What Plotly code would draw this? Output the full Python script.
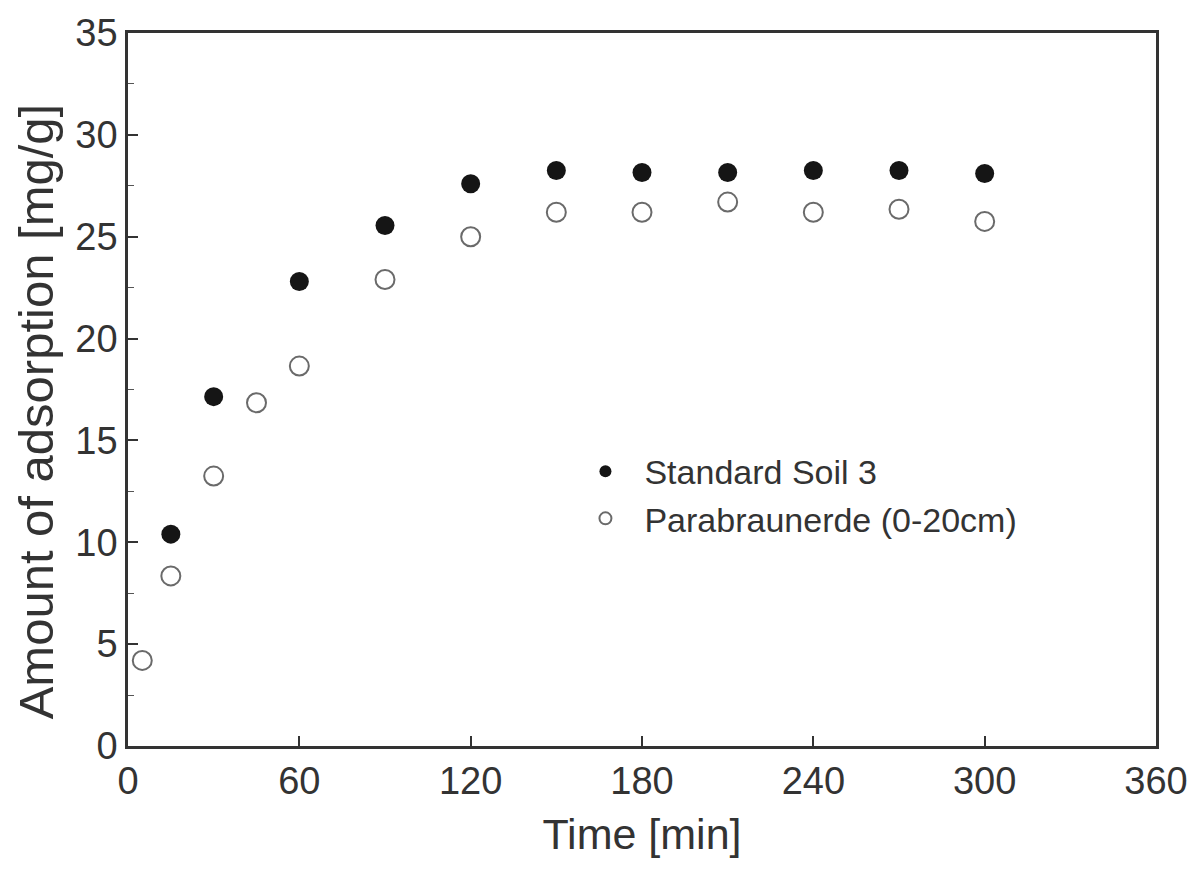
import plotly.graph_objects as go

# Adsorption kinetics: time [min] vs. amount adsorbed [mg/g]
time_soil3 = [15, 30, 60, 90, 120, 150, 180, 210, 240, 270, 300]
ads_soil3 = [10.4, 17.15, 22.8, 25.55, 27.6, 28.25, 28.15, 28.15, 28.25, 28.25, 28.1]

time_para = [5, 15, 30, 45, 60, 90, 120, 150, 180, 210, 240, 270, 300]
ads_para = [4.2, 8.35, 13.25, 16.85, 18.65, 22.9, 25.0, 26.2, 26.2, 26.7, 26.2, 26.35, 25.75]

x_ticks = [0, 60, 120, 180, 240, 300, 360]
y_ticks = [0, 5, 10, 15, 20, 25, 30, 35]

FONT = "Liberation Sans, Arial, sans-serif"

fig = go.Figure()
fig.add_trace(go.Scatter(
    x=time_soil3, y=ads_soil3, mode="markers", name="Standard Soil 3",
    marker=dict(symbol="circle", size=19, color="#151515",
                line=dict(width=0)),
))
fig.add_trace(go.Scatter(
    x=time_para, y=ads_para, mode="markers", name="Parabraunerde (0-20cm)",
    marker=dict(symbol="circle-open", size=19, color="#6a6a6a",
                line=dict(width=2)),
))

axis_common = dict(
    showline=True, linecolor="#333", linewidth=2.5, mirror=True,
    ticks="inside", ticklen=10, tickwidth=1.5, tickcolor="#333",
    showgrid=False, zeroline=False,
    tickfont=dict(family=FONT, size=38, color="#333"),
)

fig.update_layout(
    width=1200, height=878,
    margin=dict(l=128, r=38, t=31, b=132),
    paper_bgcolor="white", plot_bgcolor="white",
    font=dict(family=FONT, color="#333"),
    xaxis=dict(
        range=[0, 360], tickvals=x_ticks, **axis_common,
        title=dict(text="Time [min]", font=dict(family=FONT, size=43, color="#333"), standoff=18),
    ),
    yaxis=dict(
        range=[0, 35], tickvals=y_ticks, **axis_common,
        minor=dict(ticks="inside", ticklen=6, tickwidth=1.2, tickcolor="#555", dtick=2.5, showgrid=False),
    ),
    legend=dict(
        x=0.4265, y=0.4256, xanchor="left", yanchor="top",
        bgcolor="rgba(0,0,0,0)", borderwidth=0,
        font=dict(family=FONT, size=34, color="#333"),
        itemsizing="constant", itemwidth=68, tracegroupgap=0,
    ),
)

# vertical y-axis title, placed slightly below the plot centre
fig.add_annotation(
    text="Amount of adsorption [mg/g]", textangle=-90,
    xref="paper", yref="paper", x=-0.09, y=0.47,
    xanchor="center", yanchor="middle", showarrow=False,
    font=dict(family=FONT, size=49, color="#333"),
)

fig.write_html("out.html")
